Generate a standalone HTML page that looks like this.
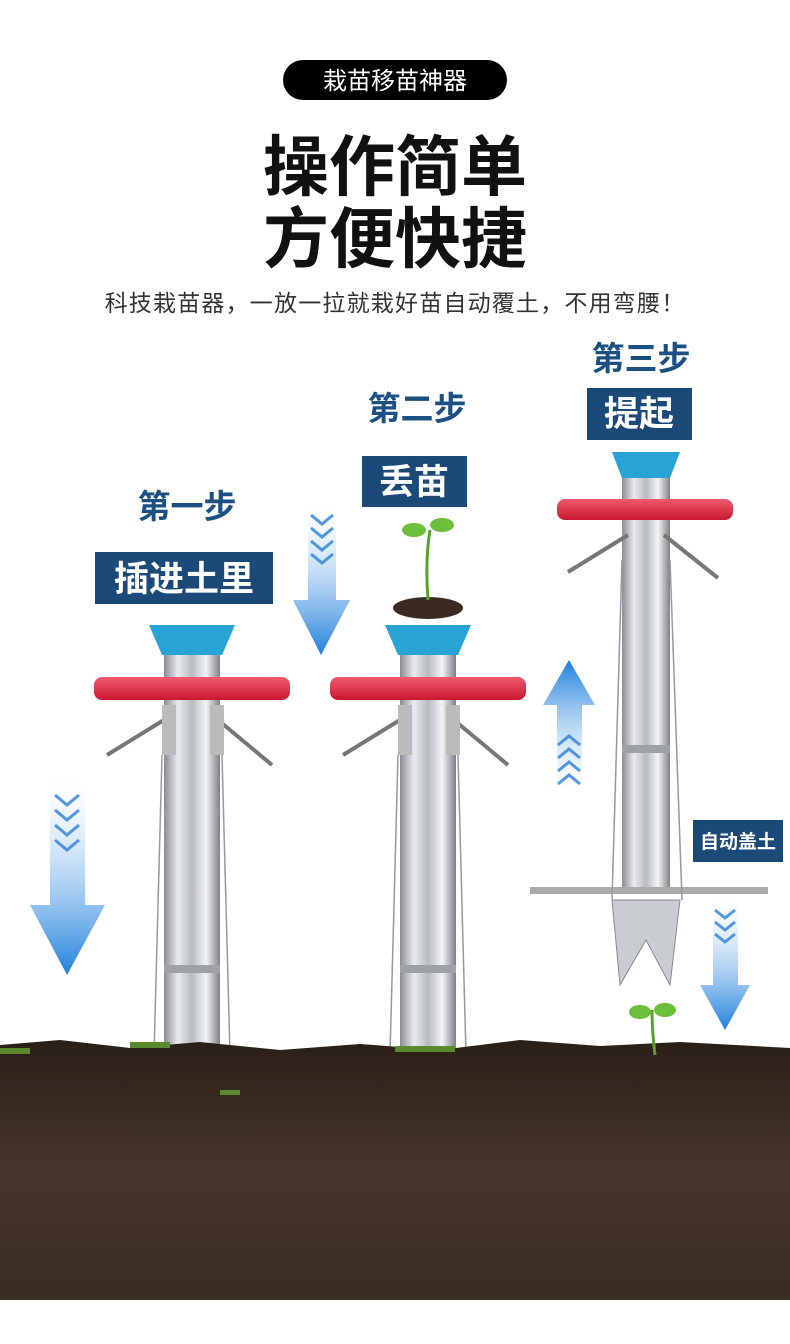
<!DOCTYPE html>
<html><head><meta charset="utf-8"><style>
body{margin:0;background:#fff;}
svg{display:block;}
text{font-family:"Liberation Sans","Noto Sans CJK SC",sans-serif;}
</style></head><body>
<svg width="790" height="1344" viewBox="0 0 790 1344" xmlns="http://www.w3.org/2000/svg">
<defs>
<linearGradient id="steel" x1="0" x2="1" y1="0" y2="0">
<stop offset="0" stop-color="#8a8d92"/><stop offset="0.25" stop-color="#e9ebee"/><stop offset="0.5" stop-color="#b7bbc0"/><stop offset="0.75" stop-color="#f3f4f6"/><stop offset="1" stop-color="#7d8085"/></linearGradient>
<linearGradient id="red" x1="0" x2="0" y1="0" y2="1"><stop offset="0" stop-color="#f05a6e"/><stop offset="1" stop-color="#c8182e"/></linearGradient>
<linearGradient id="blueDown" x1="0" x2="0" y1="0" y2="1"><stop offset="0" stop-color="#ffffff" stop-opacity="0.3"/><stop offset="1" stop-color="#1e7fdc"/></linearGradient>
<linearGradient id="blueUp" x1="0" x2="0" y1="1" y2="0"><stop offset="0" stop-color="#ffffff" stop-opacity="0.3"/><stop offset="1" stop-color="#1e7fdc"/></linearGradient>
<linearGradient id="soil" x1="0" x2="0" y1="0" y2="1"><stop offset="0" stop-color="#2a1f17"/><stop offset="0.5" stop-color="#46352b"/><stop offset="1" stop-color="#3a2c23"/></linearGradient>
<g id="tool">
<rect x="-28" y="0" width="56" height="400" fill="url(#steel)"/>
<rect x="-28" y="310" width="56" height="8" fill="#9ea2a6"/>
<path d="M-43 -30 H43 L30 0 H-30 Z" fill="#27a3d6"/>
<rect x="-98" y="22" width="196" height="23" rx="8" fill="url(#red)"/>
<line x1="-20" y1="60" x2="-85" y2="100" stroke="#777" stroke-width="4"/>
<line x1="20" y1="60" x2="80" y2="110" stroke="#777" stroke-width="4"/>
<rect x="-30" y="50" width="14" height="50" fill="#bbb"/>
<rect x="18" y="50" width="14" height="50" fill="#bbb"/>
<line x1="-30" y1="100" x2="-38" y2="400" stroke="#999" stroke-width="1.5"/>
<line x1="30" y1="100" x2="38" y2="400" stroke="#999" stroke-width="1.5"/>
</g>
</defs>

<rect x="283" y="60" width="224" height="40" rx="20" fill="#000"/>
<text x="395" y="89" font-size="24" fill="#fff" text-anchor="middle">栽苗移苗神器</text>
<text x="395" y="190" font-size="66" font-weight="bold" fill="#111" text-anchor="middle">操作简单</text>
<text x="395" y="262" font-size="66" font-weight="bold" fill="#111" text-anchor="middle">方便快捷</text>
<text x="395" y="311" font-size="23" fill="#333" text-anchor="middle" letter-spacing="1.2">科技栽苗器，一放一拉就栽好苗自动覆土，不用弯腰！</text>

<use href="#tool" x="192" y="655"/>
<use href="#tool" x="428" y="655"/>
<ellipse cx="428" cy="608" rx="35" ry="11" fill="#3b2a20"/>
<path d="M428 600 Q425 560 430 530" stroke="#5aa02c" stroke-width="3" fill="none"/>
<ellipse cx="414" cy="530" rx="12" ry="7" fill="#6cbf3a"/>
<ellipse cx="442" cy="525" rx="12" ry="7" fill="#6cbf3a"/>

<rect x="622" y="475" width="48" height="415" fill="url(#steel)"/>
<rect x="622" y="745" width="48" height="8" fill="#9ea2a6"/>
<path d="M612 452 H680 L670 478 H622 Z" fill="#27a3d6"/>
<rect x="557" y="499" width="176" height="21" rx="8" fill="url(#red)"/>
<line x1="628" y1="535" x2="568" y2="572" stroke="#777" stroke-width="4"/>
<line x1="664" y1="535" x2="718" y2="578" stroke="#777" stroke-width="4"/>
<rect x="530" y="887" width="238" height="7" fill="#aaa"/>
<path d="M612 900 L680 900 L670 985 L646 940 L620 985 Z" fill="#c9ccd0" stroke="#888"/>
<line x1="622" y1="560" x2="612" y2="900" stroke="#999" stroke-width="1.5"/>
<line x1="670" y1="560" x2="682" y2="900" stroke="#999" stroke-width="1.5"/>

<!-- soil -->
<path d="M0 1045 L60 1040 L130 1048 L200 1042 L280 1050 L360 1044 L440 1050 L520 1040 L600 1046 L680 1042 L790 1048 V1300 H0 Z" fill="url(#soil)"/>
<g fill="#5b8a2e">
<rect x="130" y="1042" width="40" height="6"/><rect x="395" y="1046" width="60" height="6"/><rect x="0" y="1048" width="30" height="6"/><rect x="220" y="1090" width="20" height="5"/>
</g>
<path d="M655 1055 Q652 1030 652 1010" stroke="#5aa02c" stroke-width="3" fill="none"/>
<ellipse cx="640" cy="1012" rx="11" ry="7" fill="#6cbf3a"/>
<ellipse cx="665" cy="1010" rx="11" ry="7" fill="#6cbf3a"/>

<path d="M50 780 H85 V905 H105 L67 975 L30 905 H50 Z" fill="url(#blueDown)"/>
<path d="M308 505 H336 V600 H350 L321 655 L293 600 H308 Z" fill="url(#blueDown)"/>
<path d="M557 790 H582 V705 H595 L569 660 L543 705 H557 Z" fill="url(#blueUp)"/>
<path d="M713 900 H738 V985 H750 L725 1030 L700 985 H713 Z" fill="url(#blueDown)"/>
<g stroke="#2a7fd6" stroke-width="3" fill="none" opacity="0.8">
<path d="M55 795 L67 805 L79 795 M55 810 L67 820 L79 810 M55 825 L67 835 L79 825 M55 840 L67 850 L79 840"/>
<path d="M311 515 L322 524 L333 515 M311 528 L322 537 L333 528 M311 541 L322 550 L333 541 M311 554 L322 563 L333 554"/>
<path d="M558 745 L569 736 L580 745 M558 758 L569 749 L580 758 M558 771 L569 762 L580 771 M558 784 L569 775 L580 784"/>
<path d="M715 910 L725 918 L735 910 M715 922 L725 930 L735 922 M715 934 L725 942 L735 934"/>
</g>

<text x="187" y="518" font-size="33" font-weight="bold" fill="#1c4f82" text-anchor="middle">第一步</text>
<rect x="95" y="552" width="178" height="52" fill="#1b4a78"/>
<text x="184" y="591" font-size="35" font-weight="bold" fill="#fff" text-anchor="middle">插进土里</text>
<text x="417" y="420" font-size="33" font-weight="bold" fill="#1c4f82" text-anchor="middle">第二步</text>
<rect x="362" y="456" width="105" height="51" fill="#1b4a78"/>
<text x="414" y="494" font-size="35" font-weight="bold" fill="#fff" text-anchor="middle">丢苗</text>
<text x="641" y="370" font-size="33" font-weight="bold" fill="#1c4f82" text-anchor="middle">第三步</text>
<rect x="587" y="388" width="105" height="52" fill="#1b4a78"/>
<text x="639" y="426" font-size="35" font-weight="bold" fill="#fff" text-anchor="middle">提起</text>
<rect x="693" y="820" width="90" height="42" fill="#1b4a78"/>
<text x="738" y="848" font-size="19" font-weight="bold" fill="#fff" text-anchor="middle">自动盖土</text>
</svg>
</body></html>
